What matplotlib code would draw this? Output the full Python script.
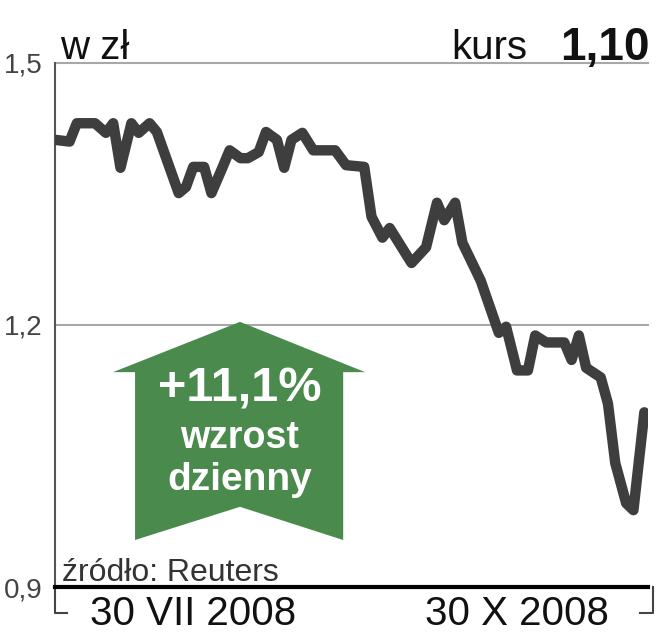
import matplotlib.pyplot as plt
from matplotlib.patches import Polygon
from matplotlib.lines import Line2D

# dane (dni od poczatku okresu, kurs w zl)
days = [0, 4, 6, 11, 14, 16, 18, 21, 23, 26, 28, 34, 36, 38, 41, 43, 46, 48,
        51, 53, 56, 58, 61, 63, 65, 68, 71, 77, 80, 85, 87, 90, 92, 98, 102,
        105, 107, 110, 112, 117, 122, 124, 127, 130, 132, 135, 140, 142, 144,
        146, 150, 152, 154, 157, 159, 162]
kurs = [1.412, 1.41, 1.431, 1.431, 1.42, 1.431, 1.38, 1.431, 1.42, 1.431,
        1.421, 1.351, 1.358, 1.381, 1.381, 1.351, 1.38, 1.40, 1.391, 1.391,
        1.398, 1.421, 1.412, 1.38, 1.412, 1.42, 1.40, 1.40, 1.383, 1.381,
        1.324, 1.30, 1.311, 1.271, 1.289, 1.34, 1.32, 1.34, 1.294, 1.251,
        1.191, 1.198, 1.148, 1.148, 1.188, 1.18, 1.18, 1.16, 1.188, 1.151,
        1.14, 1.11, 1.042, 0.996, 0.988, 1.10]
y_ticks = [0.9, 1.2, 1.5]
y_labels = ["0,9", "1,2", "1,5"]
x_ticks = [38, 127]
x_labels = ["30 VII 2008", "30 X 2008"]

FONT = ["Liberation Sans Narrow", "DejaVu Sans Condensed", "Liberation Sans", "DejaVu Sans"]
plt.rcParams["font.family"] = FONT

fig = plt.figure(figsize=(6.61, 6.40), dpi=100)
ax = fig.add_axes([0.0832, 0.0828, 0.8971, 0.8188])

ax.set_xlim(0, 163)
ax.set_ylim(0.9, 1.5)

# linie siatki
for y in [1.2, 1.5]:
    ax.axhline(y, color="#a8a8a8", lw=1.5, zorder=1, clip_on=False)

ax.plot(days, kurs, color="#3e3e3e", lw=7.5, solid_joinstyle="round",
        solid_capstyle="round", zorder=3)

for s in ["top", "right"]:
    ax.spines[s].set_visible(False)
ax.spines["left"].set_color("#555555")
ax.spines["left"].set_linewidth(1.5)
ax.spines["bottom"].set_color("black")
ax.spines["bottom"].set_linewidth(3)

ax.set_yticks(y_ticks)
ax.set_yticklabels(y_labels, fontsize=20, color="#444444")
ax.set_xticks(x_ticks)
ax.set_xticklabels(x_labels, fontsize=29, color="#111111")
ax.tick_params(axis="y", length=0, pad=9)
ax.tick_params(axis="x", length=0, pad=6)

# klamry pod osia
for xs in ([0, 0, 0.02], [1.008, 1.008, 0.987]):
    ax.add_line(Line2D(xs, [0, -0.05, -0.05], transform=ax.transAxes,
                       color="#444444", lw=1.5, clip_on=False))

# strzalka
arrow = [(0.0978, 0.410), (0.312, 0.506), (0.523, 0.410), (0.486, 0.410),
         (0.486, 0.0897), (0.312, 0.153), (0.135, 0.0897), (0.135, 0.410)]
ax.add_patch(Polygon(arrow, closed=True, transform=ax.transAxes,
                     facecolor="#4a8a4c", edgecolor="none", zorder=4))
ax.text(0.312, 0.378, "+11,1%", transform=ax.transAxes, ha="center",
        va="center", fontsize=35, fontweight="bold", color="white", zorder=5)
ax.text(0.312, 0.284, "wzrost", transform=ax.transAxes, ha="center",
        va="center", fontsize=27, fontweight="bold", color="white", zorder=5)
ax.text(0.312, 0.205, "dzienny", transform=ax.transAxes, ha="center",
        va="center", fontsize=28, fontweight="bold", color="white", zorder=5)

ax.text(0.012, 0.0115, "źródło: Reuters", transform=ax.transAxes, ha="left",
        va="baseline", fontsize=23, color="#333333")

# naglowek
fig.text(60 / 661, 1 - 59 / 640, "w zł", ha="left", va="baseline",
         fontsize=29, color="#111111")
fig.text(527 / 661, 1 - 59 / 640, "kurs", ha="right", va="baseline",
         fontsize=29, color="#111111")
fig.text(650 / 661, 1 - 60 / 640, "1,10", ha="right", va="baseline",
         fontsize=33, fontweight="bold", color="#111111")

fig.savefig("out.png", dpi=100)
